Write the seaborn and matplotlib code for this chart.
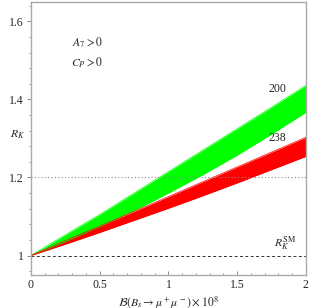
import matplotlib
matplotlib.use('Agg')
import matplotlib.pyplot as plt
import pandas as pd
import seaborn as sns
from matplotlib.ticker import MultipleLocator

# branching ratio x 10^8
br = [0.0, 0.25, 0.5, 0.75, 1.0, 1.25, 1.5, 1.75, 2.0]
# band for m = 200
green_hi = [1.0, 1.053, 1.105, 1.160, 1.215, 1.270, 1.325, 1.380, 1.436]
green_lo = [1.0, 1.035, 1.074, 1.115, 1.160, 1.207, 1.257, 1.311, 1.367]
# band for m = 238
red_hi = [1.0, 1.038, 1.075, 1.113, 1.151, 1.189, 1.227, 1.265, 1.303]
red_lo = [1.0, 1.029, 1.059, 1.090, 1.121, 1.153, 1.186, 1.220, 1.254]
band_labels = ['200', '238']

sns.set_style('white')
plt.rcParams['font.family'] = ['Liberation Serif', 'DejaVu Serif']
plt.rcParams['mathtext.fontset'] = 'stix'

df = pd.DataFrame({'br': br, 'g_hi': green_hi, 'g_lo': green_lo,
                   'r_hi': red_hi, 'r_lo': red_lo})

fig = plt.figure(figsize=(3.09, 3.08), dpi=100)
ax = fig.add_axes([0.100, 0.107, 0.890, 0.887])

# bands
ax.fill_between(df['br'], df['g_lo'], df['g_hi'], color='#00ff00', linewidth=0)
ax.fill_between(df['br'], df['r_lo'], df['r_hi'], color='#ff0000', linewidth=0)
for col, c in [('g_hi', '#00ff00'), ('g_lo', '#00ff00'), ('r_hi', '#ff0000'), ('r_lo', '#ff0000')]:
    sns.lineplot(data=df, x='br', y=col, color=c, linewidth=0.5, ax=ax)

# reference lines
ax.axhline(1.2, color='#888888', linestyle=(0, (1, 2)), linewidth=0.8)
ax.axhline(1.0, color='#333333', linestyle=(0, (3, 2.5)), linewidth=0.7)

ax.set_xlim(0, 2)
ax.set_ylim(0.95, 1.65)
ax.xaxis.set_major_locator(MultipleLocator(0.5))
ax.xaxis.set_minor_locator(MultipleLocator(0.1))
ax.yaxis.set_major_locator(MultipleLocator(0.2))
ax.yaxis.set_minor_locator(MultipleLocator(0.04))
ax.set_xticks([0, 0.5, 1, 1.5, 2])
ax.set_xticklabels(['0', '0.5', '1', '1.5', '2'])
ax.set_yticks([1, 1.2, 1.4, 1.6])
ax.set_yticklabels(['1', '1.2', '1.4', '1.6'])
ax.tick_params(axis='y', which='major', direction='out', length=3, width=0.6,
               color='#777777', labelsize=8.5, pad=2, left=True)
ax.tick_params(axis='y', which='minor', direction='out', length=1.5, width=0.5,
               color='#777777', left=True)
ax.tick_params(axis='x', which='major', direction='in', length=3, width=0.6,
               color='#777777', labelsize=8.5, pad=3, bottom=True)
ax.tick_params(axis='x', which='minor', direction='in', length=1.5, width=0.5,
               color='#777777', bottom=True)
for s in ax.spines.values():
    s.set_color('#aaaaaa')
    s.set_linewidth(1.0)

ax.set_xlabel(r'$\mathcal{B}(B_s\to\mu^+\mu^-)\times 10^8$', fontsize=8.5)
ax.xaxis.set_label_coords(0.5, -0.068)
ax.set_ylabel(r'$R_K$', fontsize=8.5, rotation=0)
ax.yaxis.set_label_coords(-0.05, 0.49)

ax.text(0.41, 1.546, r'$A_7>0$', fontsize=8.5, ha='center', va='center')
ax.text(0.41, 1.495, r'$C_P>0$', fontsize=8.5, ha='center', va='center')
ax.text(1.79, 1.426, band_labels[0], fontsize=8.5, ha='center', va='center')
ax.text(1.79, 1.30, band_labels[1], fontsize=8.5, ha='center', va='center')
ax.text(1.85, 1.03, r'$R_K^{\rm SM}$', fontsize=8.5, ha='center', va='center')

fig.savefig('out.png', dpi=100)
